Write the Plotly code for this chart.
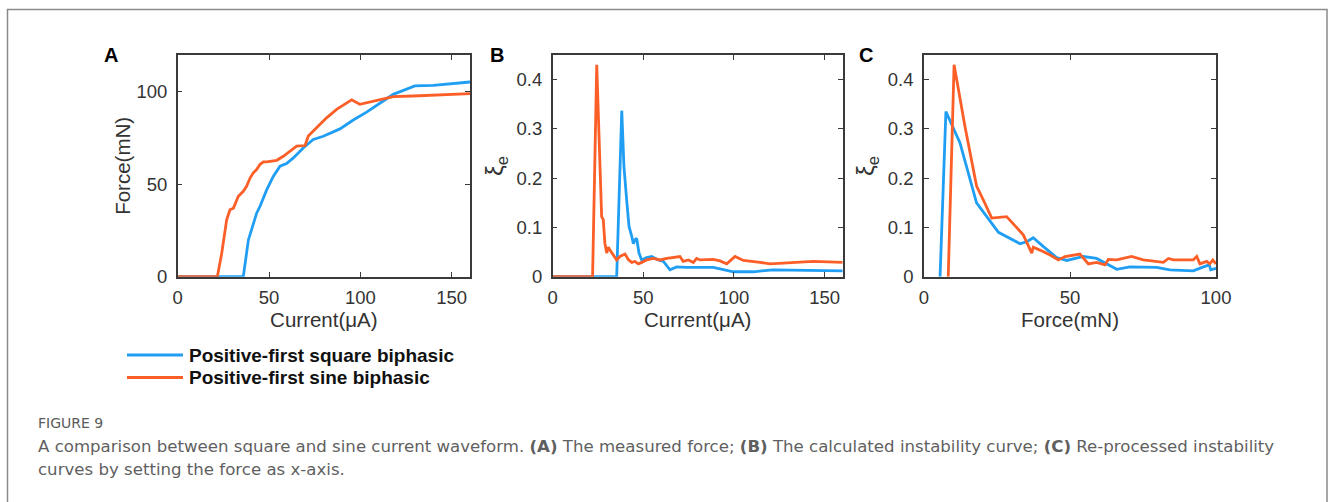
import plotly.graph_objects as go

# ---- Panel A: force vs current ----
a_square_current = [0, 35.9, 38.7, 43.2, 45.0, 48.7, 52.3, 56.0, 59.6, 63.3, 68.7, 74.2, 79.7,
                    88.8, 96.1, 103.4, 112.5, 118.0, 129.8, 139.9, 160.0]
a_square_force = [0, 0, 19.9, 34.4, 38.0, 47.0, 54.3, 59.8, 61.2, 64.3, 69.7, 74.3, 76.0,
                  80.0, 84.8, 89.1, 95.1, 98.7, 103.3, 103.6, 105.4]
a_sine_current = [0, 21.7, 24.1, 26.8, 28.6, 30.5, 33.2, 35.9, 37.7, 39.6, 41.4, 43.2, 45.0,
                  46.9, 48.7, 54.2, 57.8, 61.4, 65.1, 69.7, 71.5, 76.0, 81.5, 87.0, 92.4,
                  95.2, 99.7, 103.4, 110.7, 118.0, 128.9, 139.9, 160.0]
a_sine_force = [0, 0, 12.7, 30.8, 36.2, 37.1, 43.5, 46.2, 48.9, 53.4, 56.2, 58.0, 60.7,
                62.1, 62.1, 63.0, 65.2, 67.9, 70.7, 71.0, 76.1, 80.6, 86.0, 90.6, 94.2,
                95.7, 93.3, 94.2, 96.0, 97.5, 97.8, 98.4, 99.1]

# ---- Panel B: instability vs current ----
b_square_current = [0, 35.3, 38.1, 39.3, 40.8, 42.1, 43.6, 44.5, 45.4, 46.3, 47.6, 49.1, 51.8,
                    54.6, 58.3, 61.1, 64.7, 68.4, 73.9, 88.6, 99.7, 110.7, 121.6, 143.8, 160.0]
b_square_xi = [0, 0, 0.337, 0.224, 0.156, 0.102, 0.082, 0.067, 0.075, 0.078, 0.048, 0.034, 0.039,
               0.041, 0.034, 0.031, 0.014, 0.020, 0.019, 0.019, 0.010, 0.010, 0.014, 0.012, 0.012]
b_sine_current = [0, 22.0, 24.3, 25.2, 26.1, 27.0, 27.9, 28.8, 29.8, 30.7, 31.6, 33.4, 35.3,
                  37.1, 39.9, 41.7, 43.6, 45.4, 47.2, 49.1, 51.8, 55.5, 59.2, 62.9, 68.4,
                  70.2, 72.0, 74.9, 77.6, 79.4, 81.3, 88.6, 92.3, 96.0, 100.6, 105.2, 114.4,
                  119.9, 143.8, 160.0]
b_sine_xi = [0, 0, 0.430, 0.313, 0.197, 0.122, 0.116, 0.068, 0.048, 0.060, 0.054, 0.044, 0.034,
             0.041, 0.046, 0.035, 0.029, 0.031, 0.026, 0.029, 0.034, 0.037, 0.034, 0.037, 0.039,
             0.041, 0.031, 0.034, 0.029, 0.037, 0.034, 0.035, 0.032, 0.026, 0.041, 0.033, 0.029,
             0.026, 0.031, 0.029]

# ---- Panel C: instability vs force ----
c_square_force = [5.5, 7.5, 12.3, 18.0, 25.5, 32.9, 35.2, 37.4, 40.9, 45.4, 48.9, 54.6, 59.1,
                  62.6, 66.0, 70.5, 79.7, 84.2, 88.8, 92.2, 95.7, 97.7, 98.2, 100.0]
c_square_xi = [0, 0.335, 0.272, 0.150, 0.090, 0.067, 0.071, 0.079, 0.061, 0.039, 0.033, 0.041,
               0.037, 0.026, 0.015, 0.020, 0.019, 0.014, 0.012, 0.012, 0.020, 0.024, 0.014, 0.017]
c_sine_force = [8.3, 10.3, 14.0, 18.0, 20.3, 23.2, 28.3, 34.0, 36.9, 37.4, 39.7, 43.2, 46.0,
                48.3, 53.4, 56.3, 59.1, 62.0, 63.1, 66.0, 71.1, 75.1, 82.0, 83.7, 85.4,
                92.2, 93.4, 94.5, 96.8, 97.9, 98.9, 100.0]
c_sine_xi = [0, 0.430, 0.306, 0.184, 0.156, 0.119, 0.122, 0.085, 0.048, 0.060, 0.054, 0.044,
             0.034, 0.041, 0.046, 0.026, 0.029, 0.024, 0.035, 0.034, 0.041, 0.034, 0.029, 0.037,
             0.034, 0.034, 0.041, 0.026, 0.031, 0.026, 0.034, 0.026]

series_names = ["Positive-first square biphasic", "Positive-first sine biphasic"]
panel_letters = ["A", "B", "C"]
BLUE = "#1f9ef3"
ORANGE = "#fb5f27"
COLORS = [BLUE, ORANGE]

W, H = 1330, 502


def px_x(p):
    return p / W


def px_y(p):
    return 1 - p / H


fig = go.Figure()

panels = [
    ("x", "y", a_square_current, a_square_force, a_sine_current, a_sine_force),
    ("x2", "y2", b_square_current, b_square_xi, b_sine_current, b_sine_xi),
    ("x3", "y3", c_square_force, c_square_xi, c_sine_force, c_sine_xi),
]
for xa, ya, xs, ys, xo, yo in panels:
    fig.add_trace(go.Scatter(x=xs, y=ys, xaxis=xa, yaxis=ya, mode="lines",
                             line=dict(color=BLUE, width=2.8), name=series_names[0],
                             showlegend=False))
    fig.add_trace(go.Scatter(x=xo, y=yo, xaxis=xa, yaxis=ya, mode="lines",
                             line=dict(color=ORANGE, width=2.8), name=series_names[1],
                             showlegend=False))

AX = "#3a3a3a"
TXT = "#333333"
ARIAL = "Arial, Liberation Sans, sans-serif"
tick_font = dict(family=ARIAL, size=18.5, color=TXT)
title_font = dict(family=ARIAL, size=20.5, color=TXT)
xi_font = dict(family=ARIAL, size=24, color=TXT)

base = dict(showline=True, linecolor=AX, linewidth=1.5, mirror="allticks", ticks="inside",
            ticklen=5, tickcolor=AX, tickwidth=1.2, showgrid=False, zeroline=False,
            tickfont=tick_font, automargin=False)
xcommon = dict(base, ticklabelstandoff=3)
ycommon = dict(base, ticklabelstandoff=5)

y_dom = [px_y(276.7), px_y(55)]
xdoms = [(177.7, 470), (552.7, 842.7), (924, 1216)]
xi_ticks = [0, 0.1, 0.2, 0.3, 0.4]
xi_text = ["0", "0.1", "0.2", "0.3", "0.4"]

fig.update_layout(
    width=W, height=H,
    margin=dict(l=0, r=0, t=0, b=0),
    paper_bgcolor="white", plot_bgcolor="white",
    showlegend=False,
    xaxis=dict(domain=[px_x(xdoms[0][0]), px_x(xdoms[0][1])], range=[0, 160],
               tickvals=[0, 50, 100, 150], anchor="y",
               title=dict(text="Current(μA)", font=title_font, standoff=3), **xcommon),
    yaxis=dict(domain=y_dom, range=[0, 120], tickvals=[0, 50, 100], anchor="x",
               title=dict(text="Force(mN)", font=title_font, standoff=0), **ycommon),
    xaxis2=dict(domain=[px_x(xdoms[1][0]), px_x(xdoms[1][1])], range=[0, 160],
                tickvals=[0, 50, 100, 150], anchor="y2",
                title=dict(text="Current(μA)", font=title_font, standoff=3), **xcommon),
    yaxis2=dict(domain=y_dom, range=[0, 0.45], tickvals=xi_ticks, ticktext=xi_text,
                anchor="x2", title=dict(text="ξ<sub>e</sub>", font=xi_font, standoff=6),
                **ycommon),
    xaxis3=dict(domain=[px_x(xdoms[2][0]), px_x(xdoms[2][1])], range=[0, 100],
                tickvals=[0, 50, 100], anchor="y3",
                title=dict(text="Force(mN)", font=title_font, standoff=3), **xcommon),
    yaxis3=dict(domain=y_dom, range=[0, 0.45], tickvals=xi_ticks, ticktext=xi_text,
                anchor="x3", title=dict(text="ξ<sub>e</sub>", font=xi_font, standoff=6),
                **ycommon),
)

# panel letters
for letter, xp in zip(panel_letters, [111, 497, 866]):
    fig.add_annotation(text="<b>%s</b>" % letter, x=px_x(xp), y=px_y(55), xref="paper",
                       yref="paper", showarrow=False, xanchor="center", yanchor="middle",
                       font=dict(family=ARIAL, size=20, color="#000000"))

# legend keys below panel A
for name, color, yp in zip(series_names, COLORS, [355, 377.5]):
    fig.add_shape(type="line", xref="paper", yref="paper", x0=px_x(127), x1=px_x(183),
                  y0=px_y(yp), y1=px_y(yp), line=dict(color=color, width=3))
    fig.add_annotation(text="<b>%s</b>" % name, x=px_x(188), y=px_y(yp), xref="paper",
                       yref="paper", showarrow=False, xanchor="left", yanchor="middle",
                       borderpad=0, font=dict(family=ARIAL, size=19, color="#111111"))

# caption
cap_font = "DejaVu Sans, Verdana, sans-serif"
fig.add_annotation(text="FIGURE 9", x=px_x(37), y=px_y(423), xref="paper", yref="paper",
                   showarrow=False, xanchor="left", yanchor="middle", borderpad=0,
                   font=dict(family=cap_font, size=14, color="#5a5a5a"))
fig.add_annotation(
    text="A comparison between square and sine current waveform. <b>(A)</b> The measured force; "
         "<b>(B)</b> The calculated instability curve; <b>(C)</b> Re-processed instability",
    x=px_x(37), y=px_y(446.5), xref="paper", yref="paper", showarrow=False, xanchor="left",
    yanchor="middle", borderpad=0, font=dict(family=cap_font, size=16.6, color="#5f5f5f"))
fig.add_annotation(
    text="curves by setting the force as x-axis.",
    x=px_x(37), y=px_y(469), xref="paper", yref="paper", showarrow=False, xanchor="left",
    yanchor="middle", borderpad=0, font=dict(family=cap_font, size=16.6, color="#5f5f5f"))

# outer frame
fig.add_shape(type="rect", xref="paper", yref="paper", x0=px_x(7.5), x1=px_x(1327),
              y0=-0.1, y1=px_y(9.5), line=dict(color="#8a8a8a", width=1.5),
              fillcolor="rgba(0,0,0,0)", layer="below")

fig.write_html("out.html", post_script="document.body.style.margin='0';")
